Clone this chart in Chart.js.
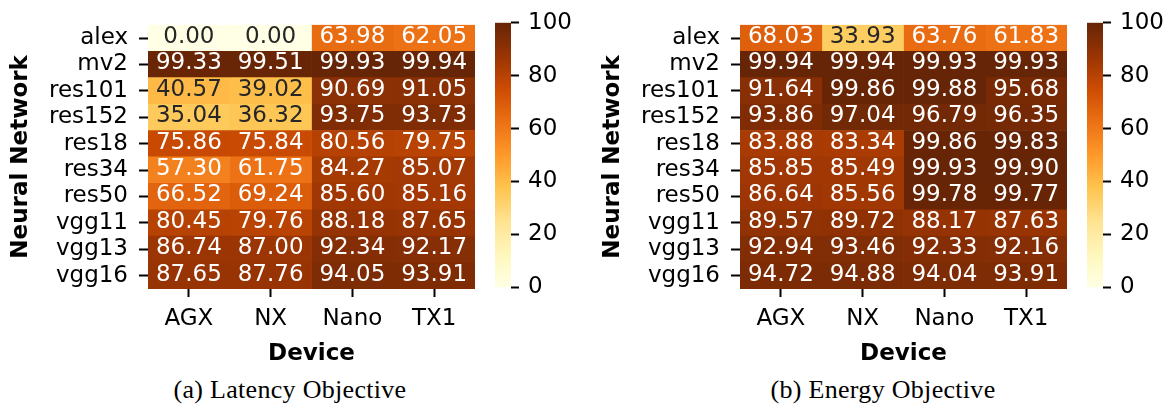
<!DOCTYPE html>
<html>
<head>
<meta charset="utf-8">
<script src="https://cdn.jsdelivr.net/npm/chart.js@4.4.1/dist/chart.umd.min.js"></script>
<style>
  html, body { margin: 0; padding: 0; background: #fff; }
  #fig { position: relative; width: 1173px; height: 406px; overflow: hidden; }
  .panel { position: absolute; top: 0; }
  .caption {
    position: absolute; top: 375px; width: 400px; text-align: center;
    font-family: "Liberation Serif", serif; font-size: 26px; line-height: 30px;
    letter-spacing: 0.3px; color: #000; white-space: nowrap;
  }
</style>
</head>
<body>
<div id="fig">
  <canvas class="panel" id="heatLatency" width="480" height="368" style="left:0px"></canvas>
  <canvas class="panel" id="barLatency" width="86" height="310" style="left:495px"></canvas>
  <canvas class="panel" id="heatEnergy" width="480" height="368" style="left:592px"></canvas>
  <canvas class="panel" id="barEnergy" width="86" height="310" style="left:1087px"></canvas>
  <div class="caption" style="left:90px">(a) Latency Objective</div>
  <div class="caption" style="left:683px">(b) Energy Objective</div>
</div>
<script>
// Row and column labels
const networks = ['alex', 'mv2', 'res101', 'res152', 'res18', 'res34', 'res50', 'vgg11', 'vgg13', 'vgg16'];
const devices = ['AGX', 'NX', 'Nano', 'TX1'];

// Scores per network (rows) and device (columns: AGX, NX, Nano, TX1)
const latency = [
  [0.00, 0.00, 63.98, 62.05],
  [99.33, 99.51, 99.93, 99.94],
  [40.57, 39.02, 90.69, 91.05],
  [35.04, 36.32, 93.75, 93.73],
  [75.86, 75.84, 80.56, 79.75],
  [57.30, 61.75, 84.27, 85.07],
  [66.52, 69.24, 85.60, 85.16],
  [80.45, 79.76, 88.18, 87.65],
  [86.74, 87.00, 92.34, 92.17],
  [87.65, 87.76, 94.05, 93.91]
];
const energy = [
  [68.03, 33.93, 63.76, 61.83],
  [99.94, 99.94, 99.93, 99.93],
  [91.64, 99.86, 99.88, 95.68],
  [93.86, 97.04, 96.79, 96.35],
  [83.88, 83.34, 99.86, 99.83],
  [85.85, 85.49, 99.93, 99.90],
  [86.64, 85.56, 99.78, 99.77],
  [89.57, 89.72, 88.17, 87.63],
  [92.94, 93.46, 92.33, 92.16],
  [94.72, 94.88, 94.04, 93.91]
];

// Colour scale range and colorbar ticks
const colorRange = [0, 100];
const colorbarStep = 20;

// YlOrBr colour map stops
const YLORBR = ['#ffffe5', '#fff7bc', '#fee391', '#fec44f', '#fe9929', '#ec7014', '#cc4c02', '#993404', '#662506'];

Chart.defaults.font.family = '"DejaVu Sans", sans-serif';
Chart.defaults.font.size = 23;
Chart.defaults.color = '#000';

function hexToRgb(h) {
  return [1, 3, 5].map(i => parseInt(h.slice(i, i + 2), 16));
}
const STOPS = YLORBR.map(hexToRgb);

function cmapRgb(v) {
  let t = (v - colorRange[0]) / (colorRange[1] - colorRange[0]);
  t = Math.max(0, Math.min(1, t));
  const p = t * (STOPS.length - 1);
  const k = Math.min(STOPS.length - 2, Math.floor(p));
  const f = p - k;
  return STOPS[k].map((c, i) => c + (STOPS[k + 1][i] - c) * f);
}
function cmap(v) {
  const c = cmapRgb(v).map(Math.round);
  return `rgb(${c[0]},${c[1]},${c[2]})`;
}
function luminance(rgb) {
  const lin = rgb.map(c => {
    c /= 255;
    return c <= 0.03928 ? c / 12.92 : Math.pow((c + 0.055) / 1.055, 2.4);
  });
  return 0.2126 * lin[0] + 0.7152 * lin[1] + 0.0722 * lin[2];
}

// Writes each cell's value in its centre, dark on light cells and white on dark ones
function annotate(values) {
  return {
    id: 'cellValues',
    afterDatasetsDraw(chart) {
      const ctx = chart.ctx;
      ctx.save();
      ctx.font = '23px "DejaVu Sans", sans-serif';
      ctx.textAlign = 'center';
      ctx.textBaseline = 'middle';
      chart.data.datasets.forEach((ds, j) => {
        chart.getDatasetMeta(j).data.forEach((bar, i) => {
          const v = values[i][j];
          ctx.fillStyle = luminance(cmapRgb(v)) > 0.408 ? '#262626' : '#ffffff';
          ctx.fillText(v.toFixed(2), (bar.x + bar.base) / 2, bar.y - 1);
        });
      });
      ctx.restore();
    }
  };
}

const tickGrid = (len) => ({
  display: true, drawOnChartArea: false, drawTicks: true,
  tickLength: len, tickWidth: 2, tickColor: '#000'
});

function heatmapConfig(values) {
  return {
    type: 'bar',
    data: {
      labels: networks,
      datasets: devices.map((dev, j) => ({
        label: dev,
        data: networks.map(() => [j, j + 1]),
        backgroundColor: values.map(row => cmap(row[j])),
        borderWidth: 0,
        barPercentage: 1,
        categoryPercentage: 1,
        grouped: false
      }))
    },
    options: {
      indexAxis: 'y',
      responsive: false,
      animation: false,
      events: [],
      layout: { padding: { top: 16, right: 5, bottom: 0, left: 0 } },
      plugins: { legend: { display: false }, tooltip: { enabled: false } },
      scales: {
        x: {
          type: 'linear', min: 0, max: devices.length,
          afterBuildTicks(s) { s.ticks = devices.map((_, j) => ({ value: j + 0.5 })); },
          afterFit(s) { s.height = 79; },
          ticks: { callback: v => devices[Math.floor(v)], padding: 8, maxRotation: 0, autoSkip: false },
          grid: tickGrid(8),
          border: { display: false },
          title: { display: true, text: 'Device', font: { weight: 'bold' }, padding: { top: 0, bottom: 0 } }
        },
        y: {
          type: 'category',
          afterFit(s) { s.width = 148; },
          ticks: { padding: 11, autoSkip: false },
          grid: Object.assign(tickGrid(9), { offset: false }),
          border: { display: false },
          title: { display: true, text: 'Neural Network', font: { weight: 'bold' }, padding: { top: 7, bottom: 0 } }
        }
      }
    },
    plugins: [annotate(values)]
  };
}

// Paints the colour map as a vertical gradient along the colorbar's value axis
const gradientFill = {
  id: 'gradientFill',
  beforeDatasetsDraw(chart) {
    const { ctx, chartArea: a, scales: { y } } = chart;
    const g = ctx.createLinearGradient(0, y.getPixelForValue(colorRange[0]), 0, y.getPixelForValue(colorRange[1]));
    YLORBR.forEach((c, k) => g.addColorStop(k / (YLORBR.length - 1), c));
    ctx.save();
    ctx.fillStyle = g;
    ctx.fillRect(a.left, a.top, a.right - a.left, a.bottom - a.top);
    ctx.restore();
  }
};

function colorbarConfig() {
  return {
    type: 'bar',
    data: { labels: [''], datasets: [] },
    options: {
      responsive: false,
      animation: false,
      events: [],
      layout: { padding: { top: 16, right: 0, bottom: 22.5, left: 0 } },
      plugins: { legend: { display: false }, tooltip: { enabled: false } },
      scales: {
        x: { display: false },
        y: {
          position: 'right', min: colorRange[0], max: colorRange[1],
          afterFit(s) { s.width = 70; },
          ticks: { stepSize: colorbarStep, padding: 9 },
          grid: tickGrid(8),
          border: { display: false }
        }
      }
    },
    plugins: [gradientFill]
  };
}

new Chart(document.getElementById('heatLatency'), heatmapConfig(latency));
new Chart(document.getElementById('barLatency'), colorbarConfig());
new Chart(document.getElementById('heatEnergy'), heatmapConfig(energy));
new Chart(document.getElementById('barEnergy'), colorbarConfig());
</script>
</body>
</html>
